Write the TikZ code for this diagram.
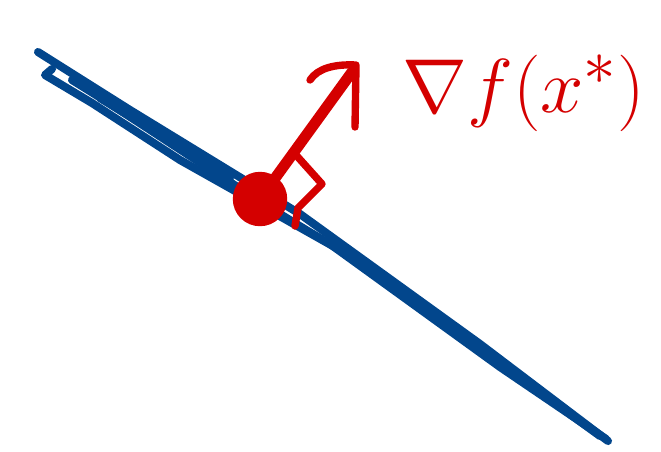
\documentclass[tikz,border=0pt]{standalone}
\usepackage{amsmath}
\usepackage{amssymb}
\usepackage{xcolor}
\definecolor{penblue}{HTML}{02468C}
\definecolor{penred}{HTML}{D40000}

\begin{document}
\begin{tikzpicture}[
  x=0.02cm, y=-0.02cm,
  bluestroke/.style={draw=penblue, line width=4.6pt, line cap=round, line join=round},
  redstroke/.style={draw=penred, line width=4.2pt, line cap=round, line join=round},
  gradlabel/.style={text=penred, font=\Huge, inner sep=0},
]
\useasboundingbox (0,0) rectangle (661,451);
% --- prosta (kilka pociagniec) ---
\draw[bluestroke] (38,52) -- (130,110) -- (300,214) -- (480,344) -- (608,441);
\draw[bluestroke] (52,69) -- (45,75) -- (92,103) -- (180,160) -- (340,250) -- (460,334) -- (600,436);
\draw[bluestroke] (72,80) .. controls (150,128) and (250,198) .. (330,244) -- (500,367) -- (606,439);
\draw[bluestroke] (100,98) -- (185,150) -- (230,178);
% --- punkt x* i gradient ---
\node[circle, fill=penred, minimum size=31pt, inner sep=0] (xstar) at (260,199) {};
\coordinate (tip) at (352,72);
\draw[redstroke, line width=6.2pt] (xstar.center) -- (tip);
\draw[redstroke] (310,80) .. controls (318,68) and (335,64) .. (356,65) -- (355,127);
% --- kat prosty ---
\draw[redstroke] (296,155) -- (322,184) -- (298,208) -- (295,226);
% --- etykieta ---
\node[gradlabel, anchor=base west] (grad) at (402,112) {\scalebox{1.78}[1.75]{$\nabla f(x^{*})$}};
\end{tikzpicture}
\end{document}
